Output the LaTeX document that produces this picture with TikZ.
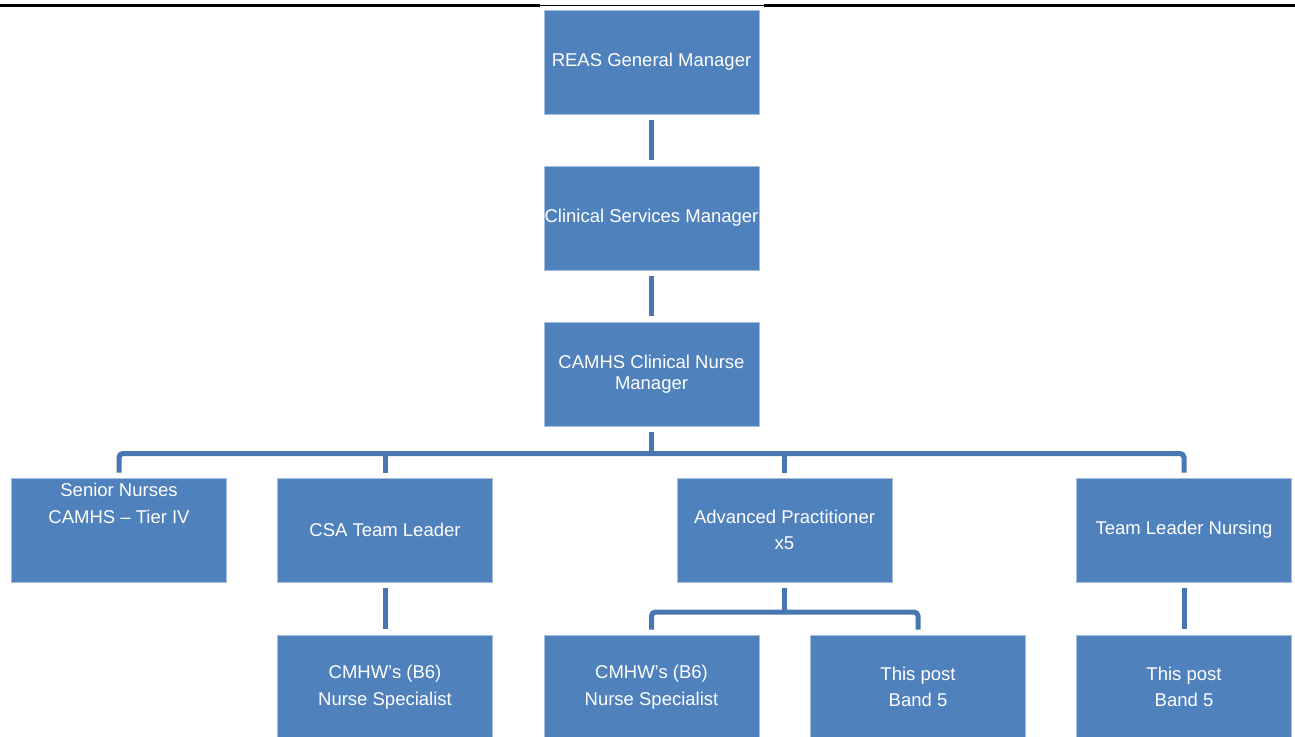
\documentclass[tikz,border=0pt]{standalone}
\usepackage{fontspec}
\setmainfont{Liberation Sans}
\definecolor{boxblue}{RGB}{79,129,189}
\definecolor{boxedge}{RGB}{165,190,222}
\definecolor{connblue}{RGB}{72,118,176}
\tikzset{
  orgbox/.style={rectangle, fill=boxblue, draw=boxedge, line width=0.8pt,
    minimum width=215pt, minimum height=104pt, inner sep=0pt,
    text=white, align=center, font=\fontsize{18.5}{26.5}\selectfont},
  conn/.style={draw=connblue, line width=5pt, rounded corners=4pt},
}
\begin{document}
\begin{tikzpicture}[x=1pt,y=-1pt]
\useasboundingbox (0,0) rectangle (1295,736);
\clip (0,0) rectangle (1295,736);
\fill[white] (0,0) rectangle (1295,736);
% top rule
\draw[black, line width=2.3pt] (0,5.5) -- (540,5.5);
\draw[black, line width=2.3pt] (764,5.5) -- (1295,5.5);
\draw[black, line width=0.8pt] (540,5.5) -- (764,5.5);
% boxes
\node[orgbox] (gm) at (651.5,62) {REAS General Manager};
\node[orgbox] (csm) at (651.5,218) {Clinical Services Manager};
\node[orgbox, font=\fontsize{18.5}{20.5}\selectfont] (cnm) at (651.5,374) {CAMHS Clinical Nurse\\Manager};
\node[orgbox] (sn) at (119,530) {Senior Nurses\\CAMHS -- Tier IV\\~\\~};
\node[orgbox] (csa) at (385,530) {CSA Team Leader};
\node[orgbox] (ap) at (784.5,530) {Advanced Practitioner\\x5};
\node[orgbox] (tln) at (1184,530) {Team Leader Nursing};
\node[orgbox] (cm1) at (385,687) {CMHW’s (B6)\\Nurse Specialist};
\node[orgbox] (cm2) at (651.5,687) {CMHW’s (B6)\\Nurse Specialist};
\node[orgbox] (tp1) at (918,687) {This post\\Band 5};
\node[orgbox] (tp2) at (1184,687) {This post\\Band 5};
% connectors
\draw[conn] ([yshift=-6pt]gm.south) -- ([yshift=6pt]csm.north);
\draw[conn] ([yshift=-6pt]csm.south) -- ([yshift=6pt]cnm.north);
\coordinate (bar) at (651.5,453.5);
\draw[conn] ([yshift=-6pt]cnm.south) -- (cnm.south |- bar);
\draw[conn] ([yshift=5pt]sn.north) |- (bar) -| ([yshift=5pt]tln.north);
\draw[conn] (csa.north |- bar) -- ([yshift=5pt]csa.north);
\draw[conn] (ap.north |- bar) -- ([yshift=5pt]ap.north);
\draw[conn] ([yshift=-6pt]csa.south) -- ([yshift=6pt]cm1.north);
\draw[conn] ([yshift=-6pt]tln.south) -- ([yshift=6pt]tp2.north);
\coordinate (bar2) at (784.5,612);
\draw[conn] ([yshift=-6pt]ap.south) -- (ap.south |- bar2);
\draw[conn] ([yshift=5pt]cm2.north) |- (bar2) -| ([yshift=5pt]tp1.north);
\end{tikzpicture}
\end{document}
